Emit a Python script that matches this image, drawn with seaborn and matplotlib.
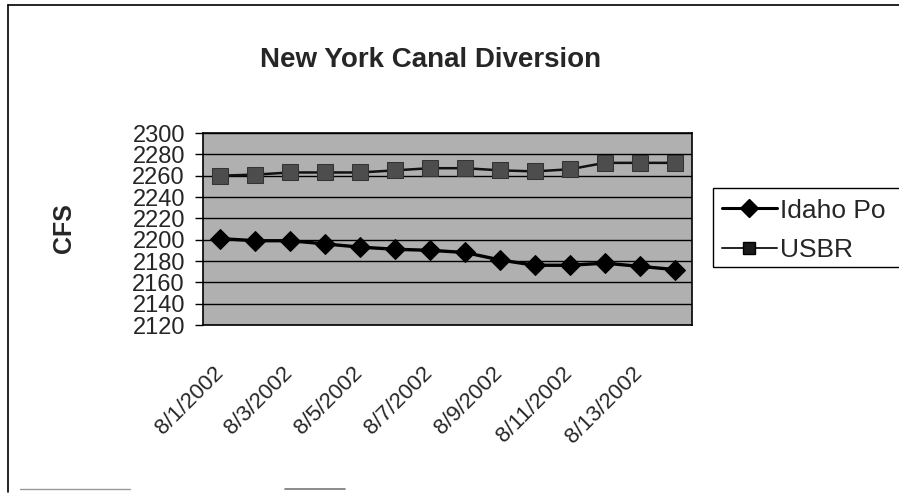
import matplotlib
matplotlib.use("Agg")
import matplotlib.pyplot as plt
import matplotlib.transforms as mtransforms
import seaborn as sns
import pandas as pd
import numpy as np
from matplotlib.lines import Line2D

# du lieu doc tu hinh
dates = ['8/1/2002', '8/2/2002', '8/3/2002', '8/4/2002', '8/5/2002', '8/6/2002', '8/7/2002',
         '8/8/2002', '8/9/2002', '8/10/2002', '8/11/2002', '8/12/2002', '8/13/2002', '8/14/2002']
idaho_power = [2201, 2199, 2199, 2196, 2193, 2191, 2190, 2188, 2181, 2176, 2176, 2178, 2175, 2172]
usbr = [2260, 2261, 2263, 2263, 2263, 2265, 2267, 2267, 2265, 2264, 2266, 2272, 2272, 2272]
series_names = ['Idaho Po', 'USBR']
y_ticks = list(range(2120, 2301, 20))

df = pd.DataFrame({
    'idx': list(range(len(dates))) * 2,
    'cfs': idaho_power + usbr,
    'series': [series_names[0]] * len(dates) + [series_names[1]] * len(dates),
})

sns.set_style("white")
plt.rcParams['font.family'] = ['Liberation Sans', 'DejaVu Sans']

W, H = 899, 498
fig = plt.figure(figsize=(W / 100, H / 100), dpi=100)
# vung ve: x 203-692, y 133-325 (pixel)
ax = fig.add_axes([203 / W, 1 - 325 / H, 489 / W, 192 / H])
ax.set_facecolor('#b0b0b0')

sns.lineplot(data=df, x='idx', y='cfs', hue='series', style='series',
             palette={'Idaho Po': 'black', 'USBR': '#111111'},
             markers={'Idaho Po': 'D', 'USBR': 's'}, dashes=False,
             markersize=10, linewidth=2, ax=ax, legend=False, zorder=3)

l_idaho, l_usbr = ax.get_lines()[:2]
l_idaho.set_markerfacecolor('black')
l_idaho.set_markeredgecolor('black')
l_idaho.set_markersize(10.5)
l_idaho.set_linewidth(2.4)
l_usbr.set_markerfacecolor('#4d4d4d')
l_usbr.set_markeredgecolor('#333333')
l_usbr.set_markersize(11)
l_usbr.set_linewidth(1.8)

ax.set_ylim(2120, 2300)
ax.set_yticks(y_ticks)
ax.set_yticklabels([str(v) for v in y_ticks], fontsize=17)
ax.yaxis.grid(True, color='black', linewidth=1)
ax.set_axisbelow(True)

ax.set_xlim(-0.5, len(dates) - 0.5)
ax.set_xticks(range(0, len(dates), 2))
ax.set_xticklabels(dates[::2], rotation=45, ha='right', va='top', rotation_mode='anchor', fontsize=16)
ax.set_xticks(np.arange(-0.5, len(dates), 2), minor=True)
ax.tick_params(axis='x', which='major', length=0, pad=27)
ax.tick_params(axis='x', which='minor', length=6, width=1, color='black', direction='out')
ax.tick_params(axis='y', length=6, width=1, color='black', direction='out', left=True, pad=7)

# dich nhan truc x sang trai mot chut
shift = mtransforms.ScaledTranslation(-8 / 100, 0, fig.dpi_scale_trans)
for lab in ax.get_xticklabels():
    lab.set_transform(lab.get_transform() + shift)

for s in ax.spines.values():
    s.set_color('black')
    s.set_linewidth(1.2)

ax.set_xlabel('')
ax.set_ylabel('')

fig.text(431 / W, 1 - 60 / H, 'New York Canal Diversion', ha='center', va='center',
         fontsize=20, fontweight='bold')
fig.text(64 / W, 1 - 228 / H, 'CFS', ha='center', va='center', rotation=90,
         fontsize=18, fontweight='bold')

# chu thich (khung bi cat o mep phai nhu ban goc)
handles = [
    Line2D([], [], color='black', lw=2.2, marker='D', markersize=9, markerfacecolor='black'),
    Line2D([], [], color='#222222', lw=1.4, marker='s', markersize=9,
           markerfacecolor='#1a1a1a', markeredgecolor='black'),
]
leg = fig.legend(handles, series_names, loc='upper left',
                 bbox_to_anchor=(711 / W, 1 - 188 / H),
                 fontsize=19, frameon=False, handlelength=2.1,
                 handletextpad=0.1, borderpad=0.4, labelspacing=0.6, borderaxespad=0)
fig.add_artist(plt.Rectangle((713 / W, 1 - 267 / H), 200 / W, 79 / H, transform=fig.transFigure,
                             fill=False, edgecolor='black', linewidth=1))

# khung bieu do
fig.add_artist(Line2D([8 / W, 1], [1 - 5 / H, 1 - 5 / H], color='black', lw=1.2))
fig.add_artist(Line2D([8 / W, 8 / W], [1 - 5 / H, 1 - 492 / H], color='black', lw=1.2))
fig.add_artist(Line2D([20 / W, 130 / W], [1 - 489 / H, 1 - 489 / H], color='#999999', lw=1))
fig.add_artist(Line2D([285 / W, 345 / W], [1 - 489 / H, 1 - 489 / H], color='#777777', lw=1.2))

fig.savefig('out.png', dpi=100)
